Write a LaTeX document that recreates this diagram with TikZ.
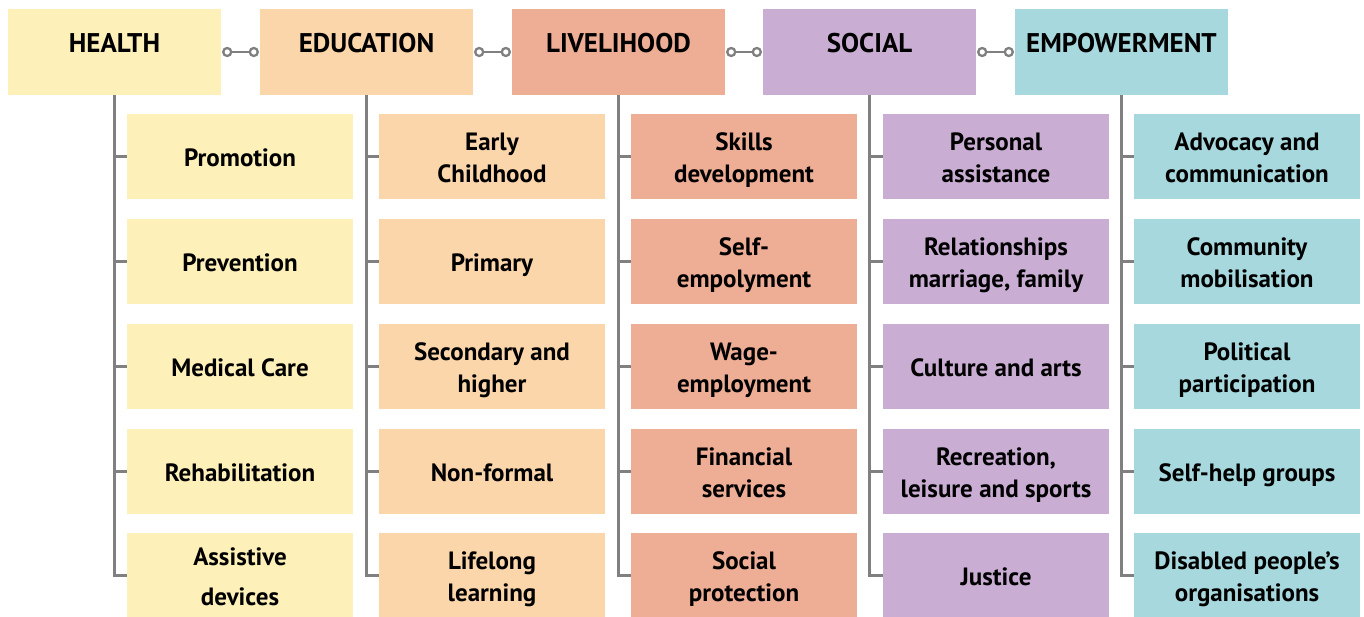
\documentclass[tikz,border=0pt]{standalone}
\usepackage{fontspec}
\setmainfont{PT Sans}
\definecolor{hcol}{HTML}{FEF0B9}
\definecolor{ecol}{HTML}{FCD6AB}
\definecolor{lcol}{HTML}{EEAD95}
\definecolor{scol}{HTML}{C9ADD3}
\definecolor{mcol}{HTML}{A6D8DD}
\definecolor{linegray}{HTML}{808080}
\newcommand\capr{\rule{0pt}{\dimexpr\fontcharht\font`H+3pt\relax}}
\newcommand\one[1]{\smash{#1}\capr}
\newcommand\two[2]{\smash{#1}\capr\\\smash{#2}}
\newcommand\twow[2]{\smash{#1}\capr\\[8pt]\smash{#2}}
\begin{document}
\begin{tikzpicture}[x=1pt,y=-1pt,
  hdr/.style={rectangle, minimum width=213pt, minimum height=86pt, inner sep=0pt,
    font=\fontsize{27}{32}\selectfont\bfseries, align=center},
  item/.style={rectangle, minimum width=226pt, minimum height=85pt, inner sep=0pt,
    font=\fontsize{25}{32}\selectfont\bfseries, align=center},
  tree/.style={draw=linegray, line width=2.5pt},
  ring/.style={circle, draw=linegray, line width=2.3pt, fill=white, minimum size=8pt, inner sep=0pt}]
\useasboundingbox (0,0) rectangle (1364,617);
\fill[white] (0,0) rectangle (1364,617);

% headers
\node[hdr, fill=hcol] (h1) at (114.5,52) {\smash{HEALTH}\rule{0pt}{2pt}};
\node[hdr, fill=ecol] (h2) at (366.5,52) {\smash{EDUCATION}\rule{0pt}{2pt}};
\node[hdr, fill=lcol] (h3) at (618.5,52) {\smash{LIVELIHOOD}\rule{0pt}{2pt}};
\node[hdr, fill=scol] (h4) at (869.5,52) {\smash{SOCIAL}\rule{0pt}{2pt}};
\node[hdr, fill=mcol] (h5) at (1121.5,52) {\smash{EMPOWERMENT}\rule{0pt}{2pt}};

% header links
\foreach \a/\b in {h1/h2,h2/h3,h3/h4,h4/h5}{
  \node[ring] (\a ra) at ([xshift=6pt]\a.east) {};
  \node[ring] (\a rb) at ([xshift=-6pt]\b.west) {};
  \draw[tree, line width=2.3pt] (\a ra) -- (\a rb);
}

% HEALTH
\node[item, fill=hcol] (c11) at (240,156.5) {\one{Promotion}};
\node[item, fill=hcol] (c12) at (240,261.5) {\one{Prevention}};
\node[item, fill=hcol] (c13) at (240,366.5) {\one{Medical Care}};
\node[item, fill=hcol] (c14) at (240,471.5) {\one{Rehabilitation}};
\node[item, fill=hcol] (c15) at (240,575.5) {\twow{Assistive}{devices}};
% EDUCATION
\node[item, fill=ecol] (c21) at (492,156.5) {\two{Early}{Childhood}};
\node[item, fill=ecol] (c22) at (492,261.5) {\one{Primary}};
\node[item, fill=ecol] (c23) at (492,366.5) {\two{Secondary and}{higher}};
\node[item, fill=ecol] (c24) at (492,471.5) {\one{Non-formal}};
\node[item, fill=ecol] (c25) at (492,575.5) {\two{Lifelong}{learning}};
% LIVELIHOOD
\node[item, fill=lcol] (c31) at (744,156.5) {\two{Skills}{development}};
\node[item, fill=lcol] (c32) at (744,261.5) {\two{Self-}{empolyment}};
\node[item, fill=lcol] (c33) at (744,366.5) {\two{Wage-}{employment}};
\node[item, fill=lcol] (c34) at (744,471.5) {\two{Financial}{services}};
\node[item, fill=lcol] (c35) at (744,575.5) {\two{Social}{protection}};
% SOCIAL
\node[item, fill=scol] (c41) at (996,156.5) {\two{Personal}{assistance}};
\node[item, fill=scol] (c42) at (996,261.5) {\two{Relationships}{marriage, family}};
\node[item, fill=scol] (c43) at (996,366.5) {\one{Culture and arts}};
\node[item, fill=scol] (c44) at (996,471.5) {\two{Recreation,}{leisure and sports}};
\node[item, fill=scol] (c45) at (996,575.5) {\one{Justice}};
% EMPOWERMENT
\node[item, fill=mcol] (c51) at (1247,156.5) {\two{Advocacy and}{communication}};
\node[item, fill=mcol] (c52) at (1247,261.5) {\two{Community}{mobilisation}};
\node[item, fill=mcol] (c53) at (1247,366.5) {\two{Political}{participation}};
\node[item, fill=mcol] (c54) at (1247,471.5) {\one{Self-help groups}};
\node[item, fill=mcol] (c55) at (1247,575.5) {\two{Disabled people’s}{organisations}};

% tree connectors
\foreach \h in {1,...,5}{
  \foreach \k in {1,...,5}{
    \draw[tree] (h\h.south) |- (c\h\k.west);
  }
}
\end{tikzpicture}
\end{document}
